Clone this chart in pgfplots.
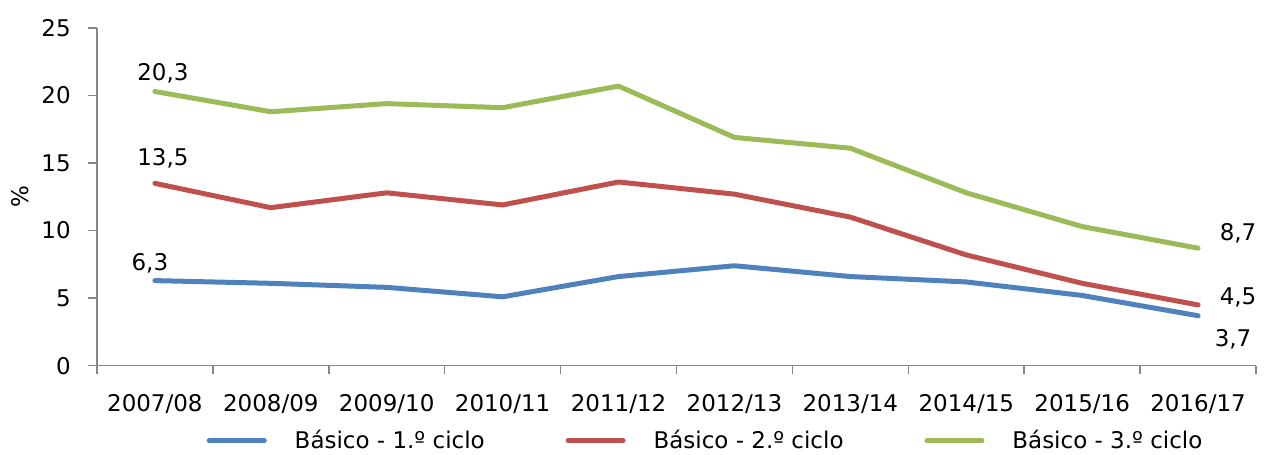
\documentclass[border=0pt]{standalone}
\usepackage{pgfplots}
\pgfplotsset{compat=1.18}
\usepackage{fontspec}
\setmainfont{DejaVu Sans}
\definecolor{cblue}{HTML}{4F81BD}
\definecolor{cred}{HTML}{C0504D}
\definecolor{cgreen}{HTML}{9BBB59}
\definecolor{axgray}{HTML}{868686}
\begin{document}
\fontsize{23bp}{27bp}\selectfont
\begin{tikzpicture}
\begin{axis}[
    name=ax,
    scale only axis,
    width=1160bp, height=338bp,
    xmin=-0.5, xmax=9.5,
    ymin=0, ymax=25,
    clip=false,
    axis lines*=left,
    axis line style={draw=axgray, line width=1.5bp},
    xtick={0,...,9},
    xticklabels={2007/08,2008/09,2009/10,2010/11,2011/12,2012/13,2013/14,2014/15,2015/16,2016/17},
    major x tick style={draw=none},
    minor xtick={-0.5,0.5,...,9.5},
    ytick={0,5,...,25},
    yticklabels={0,5,10,15,20,25},
    tick align=outside,
    major tick length=9bp,
    minor tick length=8bp,
    every tick/.style={draw=axgray, line width=1.5bp},
    every minor tick/.style={draw=axgray, line width=1.5bp},
    xticklabel style={anchor=north, inner sep=0pt, yshift=-20bp},
    yticklabel style={anchor=east, inner sep=0pt, xshift=-17bp},
    ylabel={\%},
    ylabel style={at={(axis description cs:-0.0664,0.5)}, anchor=center},
    legend columns=-1,
    legend cell align=left,
    legend image code/.code={\draw[#1, line width=5bp, line cap=round] (0bp,0bp) -- (55bp,0bp);},
    legend style={at={(axis description cs:0.0948,-0.222)}, anchor=west,
        draw=none, fill=none, inner sep=0pt, outer sep=0pt,
        nodes={inner sep=0pt},
        /tikz/every odd column/.append style={column sep=28bp},
        /tikz/every even column/.append style={column sep=81bp}},
    every axis plot/.append style={line width=5bp, line cap=round, line join=round, mark=none},
]
\addplot[cblue] coordinates {
    (0,6.3) (1,6.1) (2,5.8) (3,5.1) (4,6.6) (5,7.4) (6,6.6) (7,6.2) (8,5.2) (9,3.7)
};
\addlegendentry{Básico - 1.º ciclo}
\addplot[cred] coordinates {
    (0,13.5) (1,11.7) (2,12.8) (3,11.9) (4,13.6) (5,12.7) (6,11.0) (7,8.2) (8,6.1) (9,4.5)
};
\addlegendentry{Básico - 2.º ciclo}
\addplot[cgreen] coordinates {
    (0,20.3) (1,18.8) (2,19.4) (3,19.1) (4,20.7) (5,16.9) (6,16.1) (7,12.8) (8,10.3) (9,8.7)
};
\addlegendentry{Básico - 3.º ciclo}
\node[xshift=8bp, yshift=18bp] at (axis cs:0,20.3) {20,3};
\node[xshift=8bp, yshift=25bp] at (axis cs:0,13.5) {13,5};
\node[xshift=-5bp, yshift=17bp] at (axis cs:0,6.3) {6,3};
\node[xshift=40bp, yshift=15bp] at (axis cs:9,8.7) {8,7};
\node[xshift=40bp, yshift=7bp] at (axis cs:9,4.5) {4,5};
\node[xshift=35bp, yshift=-24bp] at (axis cs:9,3.7) {3,7};
\end{axis}
\path ([xshift=-97bp,yshift=-89bp]ax.south west) rectangle ([xshift=6bp,yshift=28bp]ax.north east);
\end{tikzpicture}
\end{document}
